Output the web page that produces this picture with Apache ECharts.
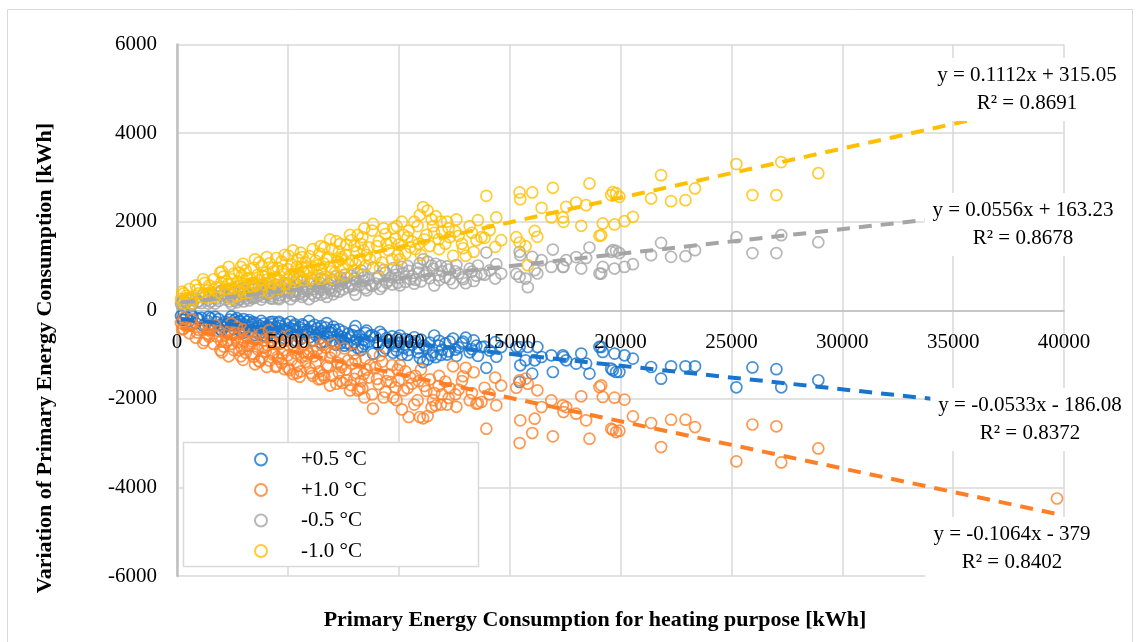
<!DOCTYPE html>
<html><head><meta charset="utf-8">
<script src="https://cdn.jsdelivr.net/npm/echarts@6/dist/echarts.min.js"></script>
<style>html,body{margin:0;padding:0;background:#fff;}#c{width:1136px;height:642px;}</style>
</head><body><div id="c"></div>
<script>
// ---- data ----
const seriesNames = ['+0.5 °C', '+1.0 °C', '-0.5 °C', '-1.0 °C'];
const xValues = [180,240,310,420,560,700,850,980,1100,1250,1380,1520,1650,1770,1880,1990,2100,2180,2290,2380,2470,2560,2650,2740,2830,2920,3010,3100,3190,3280,3370,3460,3550,3640,3730,3820,3910,4000,4090,4180,4270,4360,4450,4540,4630,4720,4810,4900,4990,5080,5170,5260,5350,5440,5530,5620,5710,5800,5890,5980,6070,6160,6250,6340,6430,6520,6610,6700,6800,6900,7000,7120,7240,7360,7480,7600,7720,7850,7980,8100,8230,8360,8500,8640,8840,8950,9100,9250,9400,9550,9700,9850,10000,10140,10300,10450,10600,10750,10950,11100,11250,11400,11550,11670,11800,11950,12100,12250,12450,12700,13020,13380,13500,13570,13730,13870,13950,14100,14350,14400,14620,15300,15450,15480,15450,15720,15820,16020,16130,16250,16440,16880,16950,17400,17430,17550,18000,18230,18450,18600,19050,19200,19130,19580,19650,19730,19800,19950,20180,20560,21380,21830,22280,22930,23360,25225,25950,27030,27250,28920,39685,
1420,1950,2220,2600,2880,3150,3420,3700,3960,4220,4480,4750,5020,5310,5580,5840,6120,6380,6650,6950,7180,7420,7650,7900,8150,8420,8700,9020,9320,9650,9950,10220,10520,10850,11150,11480,11820,12180,12550,12850,13200,3000,4600,5700,6500,8000,
300,650,900,1180,1450,1720,2020,2330,2700,2980,3250,3520,3800,4050,4320,4580,4850,5120,5400,5650,5950,6200,6480,6750,7050,7300,7550,7800,8050,8300,8550,8800,9150,9450,9750,10050,10400,10700,11000,11300,11600,11900,12300,12600,12900,13300,2450,3860,5230,6900,8450,9900,7400,10900,4150,2800];
const yMinus10 = [260,420,150,330,480,250,560,380,300,620,450,350,700,520,400,620,760,480,590,380,700,830,540,650,450,780,600,900,510,720,620,960,560,800,680,1000,580,850,700,1060,620,880,750,960,680,1100,820,600,930,780,1040,700,880,1150,760,980,680,1080,860,1220,720,960,1120,800,1280,920,1060,760,1200,980,1380,850,1100,1500,940,1250,1050,1580,900,1320,1120,1650,1000,1420,1950,1200,1560,1080,1720,1350,1150,1620,1480,2000,1280,1800,1550,1380,2150,2330,1700,1450,1900,2120,1600,1780,1500,1850,1230,1680,1230,1320,1582,2034,1650,1634,2583,1808,1431,2095,1582,1650,2660,2508,1530,1446,1017,2660,1792,1657,2312,2095,2765,2095,1996,2335,2433,1906,2373,2863,1680,1960,1695,2600,2667,1937,2644,2560,2011,2110,2524,3050,2463,2486,2750,3300,2600,2600,3345,3095,4560,
280,850,650,420,980,720,520,1080,760,520,1180,900,1230,620,1300,950,1380,1020,1420,880,1560,1200,1480,1120,1700,1350,1150,1450,1850,1520,1250,1700,1420,1900,1600,2050,1380,2000,1780,1500,1900,380,480,880,700,1450,
380,150,460,700,560,300,880,980,320,1050,400,1150,450,1200,950,560,1250,500,980,1200,900,620,1450,1150,700,1320,800,1700,1050,1500,1250,1800,950,1500,1850,1150,1650,2000,1250,2250,1750,2000,1650,2050,1400,1750,260,780,1350,1600,1850,1900,1150,1500,400,850];
const yMinus05 = [140,200,90,170,230,140,270,200,160,300,230,190,340,260,210,320,370,240,300,200,350,400,280,320,240,380,300,430,270,360,310,470,290,400,340,490,300,420,350,520,320,440,370,480,340,540,410,310,460,390,510,350,440,570,380,490,350,530,430,600,370,480,550,400,630,460,520,390,590,490,680,430,540,740,470,620,520,780,460,650,560,810,500,700,960,600,770,540,850,670,580,800,730,980,640,890,770,690,1060,1150,840,720,940,1050,790,880,740,920,610,830,610,660,780,1010,820,800,1303,900,716,1040,829,820,1320,1243,753,716,520,1205,904,830,1130,979,1371,979,980,1130,1200,942,1180,1417,829,979,829,1318,1356,942,1340,1290,979,1040,1243,1521,1205,1220,1356,1650,1290,1290,1695,1537,2250,
150,420,330,220,480,360,270,530,380,270,580,440,610,320,640,470,680,500,700,440,770,590,730,550,840,660,570,720,910,750,620,840,700,940,790,1010,680,990,880,740,940,200,250,430,350,720,
230,100,180,350,330,150,450,470,180,500,220,550,240,600,260,280,620,250,700,300,250,320,720,300,360,420,800,600,350,900,450,550,480,620,950,560,1000,600,650,1100,560,1000,700,1020,700,870,140,560,420,500,750,900,650,850,400,250];
const yPlus05 = [-130,-210,-80,-160,-240,-150,-290,-200,-170,-320,-240,-180,-350,-270,-200,-320,-380,-260,-300,-210,-340,-420,-280,-330,-240,-390,-310,-440,-260,-370,-320,-480,-290,-400,-350,-500,-300,-430,-360,-530,-320,-450,-380,-490,-350,-550,-420,-310,-470,-400,-520,-360,-450,-580,-390,-500,-350,-540,-440,-610,-370,-490,-560,-410,-640,-470,-530,-390,-600,-500,-690,-440,-550,-750,-480,-630,-530,-790,-460,-660,-570,-820,-510,-710,-980,-610,-780,-550,-860,-680,-590,-810,-740,-1000,-650,-900,-780,-700,-1080,-1170,-850,-730,-950,-1060,-800,-890,-750,-930,-640,-840,-620,-680,-800,-1030,-830,-820,-1300,-910,-720,-1050,-830,-830,-1620,-1243,-830,-1130,-830,-1431,-1130,-830,-1055,-1017,-1394,-1017,-1055,-1130,-1205,-979,-1205,-1431,-829,-942,-829,-1318,-1356,-979,-1394,-1394,-1017,-1092,-1281,-1544,-1266,-1266,-1266,-1740,-1290,-1330,-1740,-1580,-2200,
-150,-430,-330,-220,-490,-360,-270,-540,-380,-270,-590,-450,-620,-320,-650,-480,-690,-510,-710,-450,-780,-600,-740,-560,-850,-670,-580,-730,-920,-760,-630,-850,-710,-950,-800,-1020,-690,-1000,-890,-750,-950,-200,-260,-440,-360,-730,
-220,-100,-180,-350,-330,-150,-460,-480,-180,-510,-220,-560,-240,-610,-260,-290,-630,-260,-700,-320,-240,-330,-730,-290,-370,-430,-800,-610,-360,-900,-460,-560,-490,-630,-960,-570,-1010,-610,-660,-1110,-570,-1010,-710,-1030,-710,-880,-140,-570,-430,-510,-760,-910,-660,-860,-400,-250];
const yPlus10 = [-290,-430,-170,-360,-520,-330,-620,-440,-380,-680,-540,-420,-760,-590,-470,-700,-820,-560,-680,-470,-760,-900,-620,-720,-530,-850,-690,-960,-600,-800,-700,-1050,-650,-880,-1160,-1080,-680,-930,-790,-1140,-720,-960,-1280,-1050,-760,-1190,-900,-690,-1020,-1350,-1120,-790,-970,-1240,-1500,-1060,-770,-1170,-940,-1310,-1420,-1040,-1200,-880,-1380,-1000,-1460,-840,-1290,-1070,-1480,-930,-1190,-1600,-1640,-1340,-1130,-1690,-980,-1420,-1780,-1760,-1090,-1520,-2220,-1290,-1670,-1160,-1840,-1450,-1240,-1740,-1590,-2240,-1380,-2410,-1660,-1480,-2410,-2440,-1820,-1560,-2030,-2150,-1710,-1900,-1610,-1980,-1266,-1790,-1300,-1400,-2109,-2100,-2072,-1750,-2674,-1900,-1520,-2147,-1700,-1750,-2998,-2486,-1582,-1544,-1657,-2772,-2448,-1808,-2185,-2034,-2847,-2147,-2298,-2185,-2335,-1943,-2486,-2900,-1733,-1958,-1695,-2674,-2700,-1973,-2750,-2720,-2018,-2396,-2546,-3089,-2470,-2470,-2637,-3412,-2580,-2620,-3435,-3120,-4250,
-330,-900,-720,-500,-1040,-800,-980,-1150,-840,-600,-1260,-980,-1310,-700,-1380,-1030,-1480,-1560,-1520,-960,-1660,-1280,-1580,-1210,-1810,-1440,-1240,-1550,-1970,-1620,-1340,-1810,-1520,-2030,-1710,-2190,-1480,-2130,-1900,-1600,-2030,-430,-560,-950,-780,-1550,
-420,-200,-500,-740,-600,-340,-950,-1040,-380,-1120,-460,-1220,-520,-1280,-1000,-1100,-1330,-560,-1420,-620,-980,-680,-1550,-1250,-760,-1410,-860,-1810,-1130,-1600,-1340,-1900,-1020,-1600,-1970,-1240,-1760,-2130,-1340,-2390,-1870,-2130,-1760,-2180,-1490,-1870,-300,-830,-1440,-1700,-1970,-2030,-1230,-1600,-450,-900];
// trendlines (end points of the Excel linear trendlines)
const trendX = [180, 39685];
const trendPlus05 = [-196, -2301];
const trendPlus10 = [-398, -4601];
const trendMinus05 = [173, 2370];
const trendMinus10 = [335, 4728];
const trendLabels = ['y = -0.0533x - 186.08\nR² = 0.8372', 'y = -0.1064x - 379\nR² = 0.8402', 'y = 0.0556x + 163.23\nR² = 0.8678', 'y = 0.1112x + 315.05\nR² = 0.8691'];
const xTitle = 'Primary Energy Consumption for heating purpose [kWh]';
const yTitle = 'Variation of Primary Energy Consumption [kWh]';

// ---- styling ----
const colors = ['#1874CD', '#FF7F27', '#A5A5A5', '#FFC000'];
const FONT = '"Liberation Serif", "Times New Roman", serif';
const seriesY = [yPlus05, yPlus10, yMinus05, yMinus10];
const trends = [trendPlus05, trendPlus10, trendMinus05, trendMinus10];

const chart = echarts.init(document.getElementById('c'), null, {renderer: 'canvas'});
const series = [];
seriesNames.forEach((n, i) => {
  series.push({
    name: n, type: 'scatter', symbol: 'circle', symbolSize: 11, xAxisIndex: 0,
    itemStyle: {color: 'rgba(255,255,255,0)', borderColor: colors[i], borderWidth: 1.7},
    data: xValues.map((x, k) => [x, seriesY[i][k]]),
    silent: true, z: 2
  });
});
seriesNames.forEach((n, i) => {
  series.push({
    name: n + ' trend', type: 'line', symbol: 'none', silent: true, z: 3, xAxisIndex: 0,
    lineStyle: {color: colors[i], width: 4, type: [13, 9]},
    data: trendX.map((x, k) => [x, trends[i][k]])
  });
});

// label positions (pixel anchors, centre x / top y)
const labelPos = [[1030, 388], [1012, 517], [1023, 193], [1027, 58]];
const zeroOffset = -265.75;

chart.setOption({
  animation: false,
  backgroundColor: '#fff',
  grid: {left: 177, right: 72, top: 44.5, bottom: 66, containLabel: false},
  xAxis: [{
    type: 'value', min: 0, max: 40000, interval: 5000, position: 'bottom',
    offset: zeroOffset,
    axisLine: {onZero: false, lineStyle: {color: '#bfbfbf', width: 1.5}},
    axisTick: {show: false},
    axisLabel: {show: false},
    splitLine: {lineStyle: {color: '#d9d9d9', width: 1.5}}
  }, {
    type: 'value', min: 0, max: 40000, interval: 5000, position: 'bottom',
    offset: zeroOffset, z: 10,
    axisLine: {show: false, onZero: false},
    axisTick: {show: false},
    axisLabel: {color: '#000', fontFamily: FONT, fontSize: 21, margin: 22, formatter: v => String(v)},
    splitLine: {show: false}
  }],
  yAxis: {
    type: 'value', min: -6000, max: 6000, interval: 2000,
    axisLine: {show: true, onZero: false, lineStyle: {color: '#bfbfbf', width: 2.5}},
    axisTick: {show: false},
    axisLabel: {color: '#000', fontFamily: FONT, fontSize: 21, margin: 20, formatter: v => String(v)},
    splitLine: {lineStyle: {color: '#d9d9d9', width: 1.5}}
  },
  legend: {
    data: seriesNames.map((n, i) => ({name: n, icon: 'circle',
      itemStyle: {color: 'rgba(255,255,255,0)', borderColor: colors[i], borderWidth: 2}})),
    orient: 'vertical', left: 254, top: 449, padding: 0,
    itemWidth: 12, itemHeight: 12, itemGap: 9.5,
    textStyle: {color: '#000', fontFamily: FONT, fontSize: 21, lineHeight: 20, padding: [0, 0, 0, 29]},
    selectedMode: false, z: 5
  },
  graphic: [
    {type: 'rect', shape: {x: 7.5, y: 9.5, width: 1125, height: 640}, style: {fill: 'none', stroke: '#d9d9d9', lineWidth: 1}, z: -10, silent: true},
    {type: 'rect', shape: {x: 183.5, y: 442.5, width: 295, height: 124}, style: {fill: '#fff', stroke: '#d9d9d9', lineWidth: 1.5}, z: 4, silent: true},
    {type: 'text', x: 595, y: 620, style: {text: xTitle, font: 'bold 22px ' + FONT, fill: '#000', align: 'center', verticalAlign: 'middle'}, z: 100},
    {type: 'text', x: 45, y: 358, rotation: Math.PI / 2, style: {text: yTitle, font: 'bold 22px ' + FONT, fill: '#000', align: 'center', verticalAlign: 'middle'}, z: 100}
  ].concat(trendLabels.map((t, i) => ({
    type: 'text', x: labelPos[i][0], y: labelPos[i][1], z: 100, silent: true,
    style: {text: t, font: '21px ' + FONT, fill: '#000', align: 'center', verticalAlign: 'top',
      lineHeight: 28.5, backgroundColor: '#fff', padding: [3, 8, 3, 8]}
  }))),
  series: series
});
</script></body></html>
